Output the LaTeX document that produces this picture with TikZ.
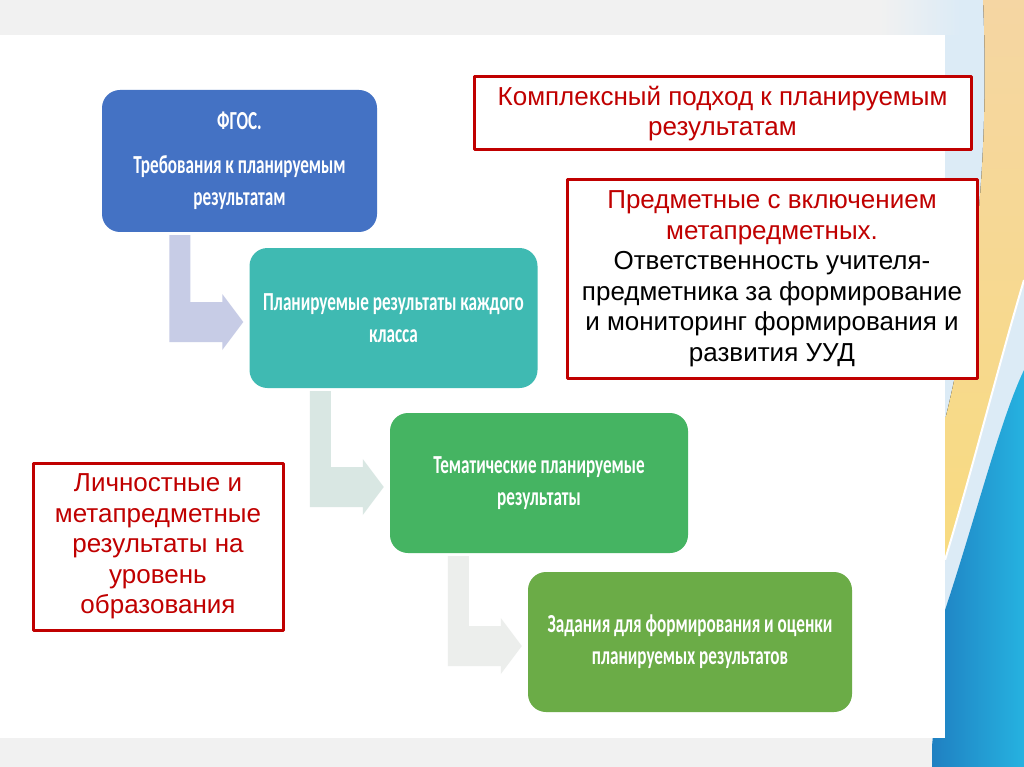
\documentclass[tikz,border=0pt]{standalone}
\usepackage{fontspec}
\setmainfont{Liberation Sans}
\newfontfamily\stepfont[FakeStretch=0.66]{Carlito}
\usetikzlibrary{calc}
\definecolor{PlanBlue}{HTML}{4472C4}
\definecolor{PlanTeal}{HTML}{3FBAB2}
\definecolor{PlanGreen}{HTML}{45B462}
\definecolor{PlanOlive}{HTML}{6BAC47}
\definecolor{PlanRed}{HTML}{C00000}
\definecolor{ArrowLilac}{HTML}{C7CCE6}
\definecolor{ArrowMint}{HTML}{D9E7E3}
\definecolor{ArrowGrey}{HTML}{ECEEEC}
\definecolor{SlideBand}{HTML}{F1F1F1}
\definecolor{SideSky}{HTML}{DCEBF6}
\definecolor{SidePeach}{HTML}{F5D6A3}
\definecolor{SideYellow}{HTML}{F8DB80}
\definecolor{SideDeep}{HTML}{1F7FC1}
\definecolor{SideCyan}{HTML}{26B2E0}
\tikzset{
    plan/diagram/.style={x=1pt, y=-1pt, line join=round},
    plan/stepbox/.style={
        rounded corners=18pt, text=white, align=center, inner sep=0pt,
        font=\stepfont\bfseries\fontsize{26}{32}\selectfont
    },
    plan/notebox/.style={
        draw=PlanRed, line width=3pt, fill=white, align=center,
        inner sep=0pt, text=PlanRed,
        font=\fontsize{26}{30.5}\selectfont
    },
    plan/side/.style={line width=2pt, draw=white}
}

\begin{document}
\begin{tikzpicture}[plan/diagram]
    \useasboundingbox (0,0) rectangle (1024,767);
    \fill[SideSky] (900,0) rectangle (1024,767);
    \fill[SlideBand] (0,0) rectangle (880,35);
    \shade[left color=SlideBand, right color=SideSky] (880,0) rectangle (960,35);
    \fill[top color=SidePeach, bottom color=SideYellow]
        (983,0) .. controls (990,150) and (975,300) .. (945,420)
        -- (945,560) .. controls (975,460) and (1000,360) .. (1024,280)
        -- (1024,0) -- cycle;
    \draw[plan/side] (945,560) .. controls (975,460) and (1000,360) .. (1024,280);
    \shade[left color=SideDeep, right color=SideCyan]
        (1024,370) .. controls (1000,420) and (975,520) .. (945,610)
        -- (930,767) -- (1024,767) -- cycle;
    \fill[SlideBand] (0,738) rectangle (932,767);
    \fill[white] (0,35) rectangle (945,738);

    \node[plan/stepbox, fill=PlanBlue, minimum width=275pt, minimum height=142pt]
        (fgos) at (239.5,161) {ФГОС.\\[12pt]Требования к планируемым\\результатам};
    \node[plan/stepbox, fill=PlanTeal, minimum width=288pt, minimum height=140pt]
        (klass) at (393.5,318) {Планируемые результаты каждого\\класса};
    \node[plan/stepbox, fill=PlanGreen, minimum width=298pt, minimum height=140pt]
        (tema) at (539,483) {Тематические планируемые\\результаты};
    \node[plan/stepbox, fill=PlanOlive, minimum width=324pt, minimum height=140pt]
        (task) at (690,642) {Задания для формирования и оценки\\планируемых результатов};

    \foreach \from/\to/\col in {fgos/klass/ArrowLilac, klass/tema/ArrowMint, tema/task/ArrowGrey}
        \fill[\col] let \p1=(\from.south), \p2=(\to.west) in
            (\x2-80pt,\y1-3pt) -- (\x2-59pt,\y1-3pt) -- (\x2-59pt,\y2+16pt)
            -- (\x2-27pt,\y2+16pt) -- (\x2-27pt,\y2+24pt) -- (\x2-6pt,\y2-4pt)
            -- (\x2-27pt,\y2-32pt) -- (\x2-27pt,\y2-24pt) -- (\x2-80pt,\y2-24pt) -- cycle;

    \node[plan/notebox, minimum width=497pt, minimum height=73pt]
        (approach) at (722.5,113.5) {Комплексный подход к планируемым\\результатам};
    \node[plan/notebox, minimum width=410pt, minimum height=198pt]
        (subject) at (772,279) {Предметные с включением\\метапредметных.\\
        \color{black}Ответственность учителя-\\\color{black}предметника за формирование\\
        \color{black}и мониторинг формирования и\\\color{black}развития УУД};
    \node[plan/notebox, minimum width=250pt, minimum height=167pt]
        (personal) at (158,546.5) {Личностные и\\метапредметные\\результаты на\\уровень\\образования};
\end{tikzpicture}
\end{document}
